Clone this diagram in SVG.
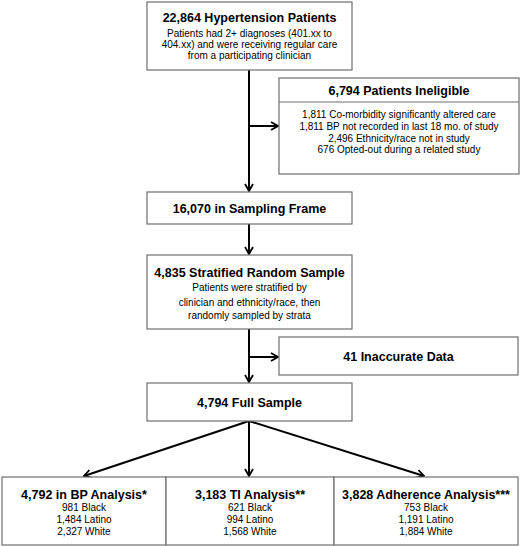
<svg xmlns="http://www.w3.org/2000/svg" width="520" height="546" viewBox="0 0 520 546">
<style>
.box{fill:#fff;stroke:#6e6e6e;stroke-width:1.2}
.t{font-family:"Liberation Sans",Arial,sans-serif;font-weight:bold;font-size:12.5px;fill:#000;text-anchor:middle}
.s{font-family:"Liberation Sans",Arial,sans-serif;font-size:10px;fill:#000;text-anchor:middle}
.c{fill:none;stroke:#000;stroke-width:2}
</style>
<defs>
<marker id="ah" viewBox="0 0 10 10" refX="9" refY="5" markerWidth="10" markerHeight="10" markerUnits="userSpaceOnUse" orient="auto">
<polyline points="2,1 9,5 2,9" fill="none" stroke="#000" stroke-width="1.8"/>
</marker>
</defs>
<g id="connectors">
<line class="c" x1="249" y1="70" x2="249" y2="191" marker-end="url(#ah)"/>
<line class="c" x1="249" y1="126" x2="278" y2="126" marker-end="url(#ah)"/>
<line class="c" x1="249" y1="224" x2="249" y2="254" marker-end="url(#ah)"/>
<line class="c" x1="249" y1="329" x2="249" y2="382" marker-end="url(#ah)"/>
<line class="c" x1="249" y1="357" x2="278" y2="357" marker-end="url(#ah)"/>
<line class="c" x1="249" y1="421" x2="84" y2="476" marker-end="url(#ah)"/>
<line class="c" x1="249" y1="421" x2="249" y2="476" marker-end="url(#ah)"/>
<line class="c" x1="249" y1="421" x2="424" y2="476" marker-end="url(#ah)"/>
</g>
<g id="n1">
<rect class="box" x="147" y="2" width="205" height="68"/>
<text class="t" x="249.5" y="22">22,864 Hypertension Patients</text>
<text class="s" x="249.5" y="37">Patients had 2+ diagnoses (401.xx to</text>
<text class="s" x="249.5" y="48">404.xx) and were receiving regular care</text>
<text class="s" x="249.5" y="59">from a participating clinician</text>
</g>
<g id="n2">
<rect class="box" x="279" y="78" width="240" height="96"/>
<line x1="279" y1="102" x2="519" y2="102" stroke="#6e6e6e" stroke-width="1.2"/>
<text class="t" x="399" y="95">6,794 Patients Ineligible</text>
<text class="s" x="399" y="118">1,811 Co-morbidity significantly altered care</text>
<text class="s" x="399" y="130">1,811 BP not recorded in last 18 mo. of study</text>
<text class="s" x="399" y="142">2,496 Ethnicity/race not in study</text>
<text class="s" x="399" y="153">676 Opted-out during a related study</text>
</g>
<g id="n3">
<rect class="box" x="147" y="192" width="205" height="32"/>
<text class="t" x="249.5" y="213">16,070 in Sampling Frame</text>
</g>
<g id="n4">
<rect class="box" x="147" y="255" width="205" height="74"/>
<text class="t" x="249.5" y="277">4,835 Stratified Random Sample</text>
<text class="s" x="249.5" y="291">Patients were stratified by</text>
<text class="s" x="249.5" y="306">clinician and ethnicity/race, then</text>
<text class="s" x="249.5" y="319">randomly sampled by strata</text>
</g>
<g id="n5">
<rect class="box" x="279" y="337" width="239" height="38"/>
<text class="t" x="398.5" y="361">41 Inaccurate Data</text>
</g>
<g id="n6">
<rect class="box" x="147" y="383" width="205" height="38"/>
<text class="t" x="249.5" y="407">4,794 Full Sample</text>
</g>
<g id="n7">
<rect class="box" x="2" y="477" width="164" height="68"/>
<text class="t" x="84" y="499">4,792 in BP Analysis*</text>
<text class="s" x="84" y="511">981 Black</text>
<text class="s" x="84" y="523">1,484 Latino</text>
<text class="s" x="84" y="535">2,327 White</text>
</g>
<g id="n8">
<rect class="box" x="166" y="477" width="168" height="68"/>
<text class="t" x="250" y="499">3,183 TI Analysis**</text>
<text class="s" x="250" y="511">621 Black</text>
<text class="s" x="250" y="523">994 Latino</text>
<text class="s" x="250" y="535">1,568 White</text>
</g>
<g id="n9">
<rect class="box" x="334" y="477" width="184" height="68"/>
<text class="t" x="426" y="499">3,828 Adherence Analysis***</text>
<text class="s" x="426" y="511">753 Black</text>
<text class="s" x="426" y="523">1,191 Latino</text>
<text class="s" x="426" y="535">1,884 White</text>
</g>
</svg>
